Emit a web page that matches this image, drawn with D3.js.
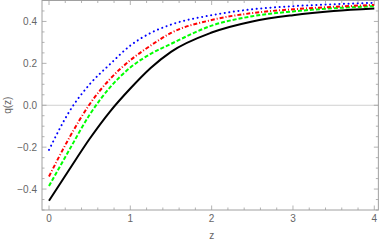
<!DOCTYPE html>
<html>
<head>
<meta charset="utf-8">
<script src="https://cdn.jsdelivr.net/npm/d3@7"></script>
<style>
  html, body { margin: 0; padding: 0; background: #fff; }
  svg { display: block; font-family: "Liberation Sans", Arial, sans-serif; }
</style>
</head>
<body>
<svg id="chart" width="382" height="244"></svg>
<script>
// values
const zs = [0, 0.25, 0.5, 0.75, 1, 1.25, 1.5, 2, 2.5, 3, 3.5, 4];
const qBlack = [-0.456, -0.307, -0.16, -0.03, 0.08, 0.178, 0.255, 0.347, 0.4, 0.43, 0.45, 0.462];
const qGreen = [-0.385, -0.213, -0.045, 0.085, 0.18, 0.245, 0.293, 0.38, 0.425, 0.448, 0.463, 0.473];
const qRed = [-0.34, -0.155, 0.005, 0.125, 0.215, 0.285, 0.345, 0.407, 0.44, 0.458, 0.47, 0.479];
const qBlue = [-0.213, -0.03, 0.1, 0.196, 0.285, 0.345, 0.385, 0.43, 0.458, 0.473, 0.482, 0.489];
const xTicks = [0, 1, 2, 3, 4];
const yTicks = [-0.4, -0.2, 0, 0.2, 0.4];

const svg = d3.select("#chart");
const x = d3.scaleLinear().domain([0, 4]).range([49, 374.3]);
const y = d3.scaleLinear().domain([-0.5, 0.5]).range([210, 0.5]);
const x0 = x(-0.086), x1 = x(4.05), y0 = y(-0.5), y1 = y(0.5);
const frameColor = "#a0a0a0", textColor = "#666";

// zero axis line
svg.append("line").attr("x1", x0).attr("x2", x1).attr("y1", y(0)).attr("y2", y(0))
  .attr("stroke", "#d0d0d0").attr("stroke-width", 1);

// curves
const line = d3.line().x((d, i) => x(zs[i])).y(d => y(d)).curve(d3.curveMonotoneX);
const series = [
  { v: qBlack, color: "#000", dash: null, w: 2 },
  { v: qGreen, color: "#00ff00", dash: "4,2", w: 2 },
  { v: qRed, color: "#ff0000", dash: "4,2,1,2", w: 2 },
  { v: qBlue, color: "#0000ff", dash: "0.1,4.5", w: 2 }
];
series.forEach(s => {
  const p = svg.append("path").attr("d", line(s.v)).attr("fill", "none")
    .attr("stroke", s.color).attr("stroke-width", s.w);
  if (s.dash) p.attr("stroke-dasharray", s.dash);
  if (s.dash === "0.1,4.5") p.attr("stroke-linecap", "round");
});

// frame
svg.append("rect").attr("x", x0).attr("y", y1).attr("width", x1 - x0).attr("height", y0 - y1)
  .attr("fill", "none").attr("stroke", frameColor).attr("stroke-width", 1);

// ticks (inward), major + minor, all four sides
const g = svg.append("g").attr("stroke", frameColor).attr("stroke-width", 0.8);
d3.range(0, 4.01, 0.2).forEach(t => {
  const major = Math.abs(t - Math.round(t)) < 1e-6;
  const len = major ? 4.5 : 2.5;
  g.append("line").attr("x1", x(t)).attr("x2", x(t)).attr("y1", y0).attr("y2", y0 - len);
  g.append("line").attr("x1", x(t)).attr("x2", x(t)).attr("y1", y1).attr("y2", y1 + len);
});
d3.range(-0.5, 0.501, 0.05).forEach(t => {
  const major = yTicks.some(m => Math.abs(m - t) < 1e-6);
  const len = major ? 4.5 : 2.5;
  g.append("line").attr("y1", y(t)).attr("y2", y(t)).attr("x1", x0).attr("x2", x0 + len);
  g.append("line").attr("y1", y(t)).attr("y2", y(t)).attr("x1", x1).attr("x2", x1 - len);
});

// tick labels
svg.selectAll(".xl").data(xTicks).join("text")
  .attr("x", d => x(d)).attr("y", y0 + 12).attr("text-anchor", "middle")
  .attr("font-size", 10).attr("fill", textColor).text(d => d);
svg.selectAll(".yl").data(yTicks).join("text")
  .attr("x", x0 - 5).attr("y", d => y(d) + 3.5).attr("text-anchor", "end")
  .attr("font-size", 10).attr("fill", textColor)
  .text(d => (d < 0 ? "\u2212" : "") + Math.abs(d).toFixed(1));

// axis titles
svg.append("text").attr("x", x(2)).attr("y", 239).attr("text-anchor", "middle")
  .attr("font-size", 10).attr("fill", textColor).text("z");
svg.append("text").attr("transform", `translate(11,${y(0)}) rotate(-90)`)
  .attr("text-anchor", "middle").attr("font-size", 10).attr("fill", textColor).text("q(z)");
</script>
</body>
</html>
